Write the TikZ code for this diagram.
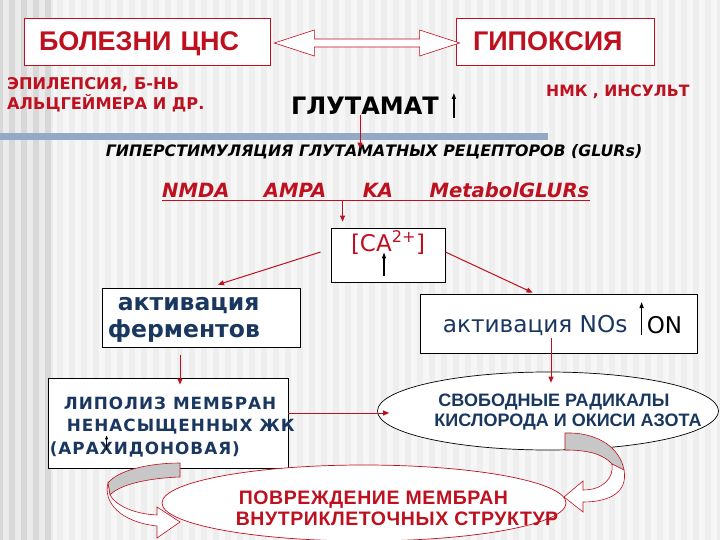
\documentclass[tikz,border=0pt]{standalone}
\usepackage{fontspec}
\setmainfont{Liberation Sans}
\newfontfamily\dvfont{DejaVu Sans}
\usetikzlibrary{arrows.meta,positioning,calc,shapes.geometric}
\definecolor{cnsred}{RGB}{190,16,30}
\definecolor{cnsblue}{RGB}{25,55,95}
\definecolor{barblue}{RGB}{148,170,196}
\definecolor{bgmain}{RGB}{238,238,238}
\definecolor{bgleft}{RGB}{216,216,216}
\newcommand\fsz[2]{\fontsize{#1pt}{#2pt}\selectfont}

\begin{document}
\begin{tikzpicture}[x=1pt,y=-1pt,
  redbox/.style={draw=cnsred,fill=white,line width=0.8pt},
  blkbox/.style={draw=black,fill=white,line width=0.8pt},
  redarr/.style={cnsred,line width=1pt,-{Triangle[length=6pt,width=5pt]}},
  uparr/.style={black,line width=1.2pt,-{Triangle[length=6pt,width=4pt]}},
  hollow/.style={draw=cnsred,fill=white,line width=0.6pt},
  ribbon/.style={draw=cnsred,fill=white,line width=0.6pt},
  ribbonback/.style={draw=cnsred,fill=black!22,line width=0.6pt}]
\useasboundingbox (0,0) rectangle (720,540);
% background
\fill[bgmain] (0,0) rectangle (720,540);
\fill[bgleft] (0,0) rectangle (53,540);
\foreach \i in {0,12,...,708} \fill[white,opacity=0.5] (\i+3,0) rectangle ++(6,540);
\fill[barblue] (0,133) rectangle (548,140);

% top row
\node[redbox,minimum width=246pt,minimum height=47pt,text width=216pt,inner xsep=15pt,align=left,text depth=0pt,
  font=\fsz{27}{30}\bfseries,text=cnsred] (cns) at (147,41.5) {БОЛЕЗНИ ЦНС};
\node[redbox,minimum width=198pt,minimum height=47pt,text width=164pt,inner xsep=17pt,align=left,text depth=0pt,
  font=\fsz{27}{30}\bfseries,text=cnsred] (hyp) at (555,41.5) {ГИПОКСИЯ};
\coordinate (dl) at ([xshift=4pt,yshift=-1.5pt]cns.east);
\coordinate (dr) at ([xshift=4pt,yshift=-1.5pt]hyp.west);
\draw[hollow] (dl) -- ++(40,-13) -- ++(0,9) -- ($(dr)+(-40,-4)$) -- ++(0,-9) -- (dr)
  -- ++(-40,13) -- ++(0,-9) -- ($(dl)+(40,4)$) -- ++(0,9) -- cycle;

\node[anchor=west,align=left,inner sep=0,font=\dvfont\fsz{16.2}{20}\bfseries,text=cnsred] (epi) at (7,95)
  {ЭПИЛЕПСИЯ, Б-НЬ\\АЛЬЦГЕЙМЕРА И ДР.};
\node[anchor=west,inner sep=0,font=\dvfont\fsz{15.6}{19}\bfseries,text=cnsred] (nmk) at (546,92) {НМК , ИНСУЛЬТ};
\node[anchor=west,inner sep=0,font=\dvfont\fsz{24}{27}\bfseries] (glu) at (291,106) {ГЛУТАМАТ};
\draw[uparr] ([xshift=15pt,yshift=-12pt]glu.east) -- ++(0,-25);

\node[inner sep=0,font=\dvfont\fsz{15.8}{19}\bfseries\itshape] (hstim) at (374,152)
  {ГИПЕРСТИМУЛЯЦИЯ ГЛУТАМАТНЫХ РЕЦЕПТОРОВ (GLURs)};
\draw[redarr,shorten >=-4pt] (glu.south -| 360,0) -- (hstim.north -| 360,0);

% receptors
\node[anchor=base west,inner sep=0,font=\dvfont\fsz{19.6}{23}\bfseries\itshape,text=cnsred] (nmda) at (162,198) {NMDA};
\node[base right=34pt of nmda,inner sep=0,font=\dvfont\fsz{19.6}{23}\bfseries\itshape,text=cnsred] (ampa) {AMPA};
\node[base right=36pt of ampa,inner sep=0,font=\dvfont\fsz{19.6}{23}\bfseries\itshape,text=cnsred] (ka) {KA};
\node[base right=36pt of ka,inner sep=0,font=\dvfont\fsz{19.6}{23}\bfseries\itshape,text=cnsred] (metab) {MetabolGLURs};
\draw[cnsred,line width=1.1pt] ([yshift=-2.5pt]nmda.base west) -- ([yshift=-2.5pt]metab.base east);
\coordinate (kdown) at ($(ka.base west)+(-20,3)$);

% calcium
\node[blkbox,minimum width=114pt,minimum height=54pt] (ca) at (388,255) {};
\node[below=3pt of ca.north,inner sep=0,font=\dvfont\fsz{23}{27},text=cnsred] (catext) {[CA\textsuperscript{2+}]};
\draw[redarr,shorten >=6pt] (kdown) -- (kdown |- ca.north);
\draw[uparr] ([xshift=-4pt,yshift=6pt]ca.south) -- ++(0,-24);

% activation
\node[blkbox,minimum width=198pt,minimum height=59pt] (act1) at (201,317.5) {};
\node[right=6pt of act1.west,yshift=-2pt,align=left,inner sep=0,
  font=\dvfont\fsz{23.5}{27}\bfseries,text=cnsblue] (act1text) {\hspace*{10pt}активация\\ферментов};
\node[blkbox,minimum width=277pt,minimum height=59pt] (act2) at (558.5,323.5) {};
\node[right=23pt of act2.west,yshift=-1.5pt,inner sep=0,font=\dvfont\fsz{23.2}{26},text=cnsblue] (nos) {активация NOs};
\node[right=19pt of nos,inner sep=0,font=\dvfont\fsz{23}{26}] (on) {ON};
\draw[uparr] ($(on.west)+(-5,10)$) -- ++(0,-33);

% lipolysis and radicals
\node[blkbox,minimum width=240pt,minimum height=90pt] (lip) at (168,423) {};
\node[right=2pt of lip.west,yshift=-4pt,align=left,inner sep=0,font=\dvfont\fsz{16.8}{22.5}\bfseries\addfontfeature{LetterSpace=6},text=cnsblue] (liptext)
  {\hspace*{14pt}ЛИПОЛИЗ МЕМБРАН\\\hspace*{17pt}НЕНАСЫЩЕННЫХ ЖК\\(АРАХИДОНОВАЯ)};
\draw[black,line width=0.9pt,-{Triangle[length=4pt,width=3pt]}] ($(lip.south west)+(59,-18)$) -- ++(0,-15);

\node[ellipse,draw=black,fill=white,line width=0.7pt,minimum width=341pt,minimum height=78pt,inner sep=0] (rad) at (548,411) {};
\node[align=center,inner sep=0,font=\fsz{18}{19.5}\bfseries,text=cnsblue] (radtext) at (568,412)
  {СВОБОДНЫЕ РАДИКАЛЫ\hspace*{28pt}\\КИСЛОРОДА И ОКИСИ АЗОТА};

% damage
\node[ellipse,draw=cnsred,fill=white,line width=0.7pt,minimum width=404pt,minimum height=76pt,inner sep=0] (dam) at (364,503) {};
\node[right=74pt of dam.west,yshift=-5pt,align=left,inner sep=0,font=\fsz{19.5}{21}\bfseries\addfontfeature{LetterSpace=3},text=cnsred] (damtext)
  {\hspace*{3pt}ПОВРЕЖДЕНИЕ МЕМБРАН\\ВНУТРИКЛЕТОЧНЫХ СТРУКТУР};

% curved arrows
\draw[ribbonback] (180,463) -- (180,477) .. controls (150,478) and (120,484) .. (110,495) -- (108,483)
  .. controls (118,470) and (150,463) .. cycle;
\draw[ribbon] (108,483) .. controls (103,502) and (120,522) .. (157,526) -- (157,538) -- (180,522) -- (157,507)
  -- (157,515) .. controls (135,514) and (116,506) .. (110,495) -- cycle;
\draw[ribbonback] (565,433) .. controls (598,432) and (620,448) .. (624,470) -- (612,464)
  .. controls (603,454) and (588,450) .. (565,450) -- cycle;
\draw[ribbon] (624,470) .. controls (628,492) and (610,502) .. (583,502) -- (583,512) -- (564,497) -- (583,481)
  -- (583,490) .. controls (603,490) and (614,478) .. (612,464) -- cycle;

% connectors
\draw[redarr] ([xshift=-10pt,yshift=3pt]ca.west) -- ([xshift=17pt,yshift=3pt]act1.north);
\draw[redarr] ([yshift=3pt]ca.east) -- ([xshift=-26pt,yshift=1pt]act2.north);
\draw[redarr] ([xshift=-21pt,yshift=-8pt]act1.south) -- ([xshift=12pt,yshift=-7pt]lip.north);
\draw[redarr] ([xshift=-7.5pt,yshift=15pt]act2.south) -- ([xshift=3pt,yshift=-11pt]rad.north);
\draw[redarr] ([yshift=10pt]lip.east) -- ([xshift=12pt,yshift=-2pt]rad.west);
\end{tikzpicture}
\end{document}
